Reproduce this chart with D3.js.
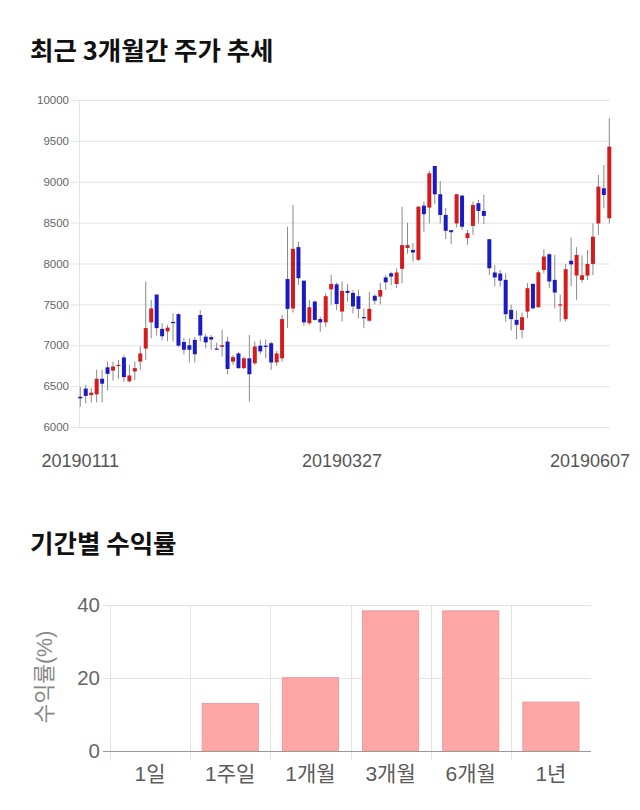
<!DOCTYPE html>
<html><head><meta charset="utf-8">
<script src="https://cdn.jsdelivr.net/npm/d3@7"></script>
<style>body{margin:0;background:#fff}svg{display:block}</style>
</head><body>
<svg id="c" width="640" height="810"></svg>
<script>
// ---- Candlestick data ----
const open  = [6370,6470,6390,6400,6590,6730,6690,6750,6850,6560,6680,6800,6960,7280,7620,7200,7170,7285,7380,7040,7000,7065,7370,7105,7100,6960,6980,7045,6800,6900,6720,6840,6780,6995,6995,7025,6790,6840,7810,7450,8200,7790,7270,7535,7320,7280,7685,7745,7412,7665,7640,7600,7345,7300,7605,7595,7830,7880,7750,7935,8190,8165,8045,8708,8684,9193,8847,8594,8407,8490,8830,8310,8460,8737,8643,8297,7890,7877,7800,7432,7310,7188,7412,7750,7465,7920,8113,7800,7490,7320,8033,7853,7800,7852,7995,8490,8920,8553];
const high  = [6490,6515,6480,6700,6700,6800,6800,6820,6880,6760,6800,6985,7780,7555,7620,7270,7250,7390,7390,7085,7085,7100,7430,7140,7125,7030,7190,7105,6880,6920,6860,7125,7045,7065,7070,7045,6930,7370,8450,8716,8268,7790,7555,7545,7350,7635,7860,7770,7780,7750,7675,7680,7450,7650,7625,7765,7860,7900,7940,8695,8500,8250,8700,8757,9130,9193,9010,8680,8410,8850,8840,8410,8757,8777,8838,8297,7980,7920,7880,7495,7420,7400,7760,7760,7920,8175,8125,8105,7620,7995,8316,8200,8097,8165,8490,9083,9205,9776];
const low   = [6250,6290,6300,6300,6300,6445,6570,6590,6555,6540,6575,6700,6820,7085,7120,7060,7050,7045,6980,6890,6790,6790,7045,6960,6945,6940,6860,6645,6760,6710,6710,6310,6755,6890,6840,6700,6750,6800,7210,7400,7740,7240,7250,7300,7165,7225,7495,7430,7290,7535,7390,7330,7208,7290,7500,7500,7680,7735,7700,7760,8120,8025,8030,8390,8490,8725,8490,8300,8240,8440,8410,8230,8350,8490,8484,7860,7720,7720,7290,7180,7075,7085,7330,7440,7460,7880,7700,7450,7290,7290,7725,7555,7765,7800,7860,8350,8675,8490];
const close = [6350,6380,6420,6590,6530,6650,6740,6760,6610,6630,6720,6900,7210,7450,7210,7110,7215,7275,6995,6945,6945,6890,7120,7035,7070,6950,7000,6710,6855,6720,6840,6645,6985,6925,6985,6790,6900,7320,7445,8180,7820,7280,7465,7310,7280,7600,7750,7505,7665,7640,7475,7445,7335,7445,7545,7676,7770,7840,7890,8225,8225,8135,8695,8603,9104,8847,8594,8400,8383,8847,8450,8370,8716,8643,8582,7942,7830,7790,7380,7320,7250,7343,7698,7452,7893,8085,7780,7645,7500,7930,7990,8105,7856,7995,8328,8940,8838,9430];
const priceTicks = [6000,6500,7000,7500,8000,8500,9000,9500,10000];
const dateLabels = ["20190111","20190327","20190607"];
const dateLabelIndex = [0,48,97];

// ---- Return bar data ----
const periods = ["1일","1주일","1개월","3개월","6개월","1년"];
const returns = [0,13.0,20.1,38.4,38.4,13.4];
const returnTicks = [0,20,40];

const svg = d3.select("#c");
const FONT = "'Liberation Sans', Arial, 'Noto Sans CJK KR', sans-serif";
const TFONT = "'Noto Sans CJK KR', sans-serif";

// Titles
svg.append("text").attr("x",30).attr("y",60).attr("font-family",TFONT).attr("font-weight","bold")
  .attr("font-size",25.5).attr("fill","#111").text("최근 3개월간 주가 추세");
svg.append("text").attr("x",30).attr("y",553).attr("font-family",TFONT).attr("font-weight","bold")
  .attr("font-size",25.5).attr("fill","#111").text("기간별 수익률");

// ---- Candlestick chart ----
const idx = d3.range(open.length);
const x = d3.scalePoint().domain(idx).range([80.3, 609.3]);
const y = d3.scaleLinear().domain([6000,10000]).range([427,100]);
const g1 = svg.append("g");

const yAx = g1.append("g").attr("transform","translate(79,0)")
  .call(d3.axisLeft(y).tickValues(priceTicks).tickSize(8).tickPadding(2).tickFormat(d3.format("d")));
yAx.select(".domain").attr("stroke","#e3e3e3");
yAx.selectAll(".tick line").attr("stroke","#e3e3e3");
yAx.selectAll(".tick text").attr("fill","#666").attr("font-size",11.5).attr("font-family",FONT);
g1.append("g").selectAll("line").data(priceTicks).join("line")
  .attr("x1",79).attr("x2",610).attr("y1",d=>y(d)+0.5).attr("y2",d=>y(d)+0.5)
  .attr("stroke","#e3e3e3");

const up = "#d41c1c", down = "#1b1bc4";
const cg = g1.append("g");
cg.selectAll("line.w").data(idx).join("line").attr("class","w")
  .attr("x1",i=>x(i)).attr("x2",i=>x(i)).attr("y1",i=>y(high[i])).attr("y2",i=>y(low[i]))
  .attr("stroke","#8a8a8a").attr("stroke-width",1);
cg.selectAll("rect").data(idx).join("rect")
  .attr("x",i=>x(i)-2).attr("width",4)
  .attr("y",i=>y(Math.max(open[i],close[i])))
  .attr("height",i=>Math.max(1.2, Math.abs(y(open[i])-y(close[i]))))
  .attr("fill",i=>close[i]>=open[i]?up:down);

const dl = g1.append("g").selectAll("text").data(dateLabels).join("text")
  .attr("y",467).attr("font-family",FONT).attr("font-size",18).attr("fill","#555")
  .attr("text-anchor","middle").attr("x",(d,k)=>x(dateLabelIndex[k])).text(d=>d);
dl.each(function(){
  const w = this.getComputedTextLength(), cx = +this.getAttribute("x");
  if (cx + w/2 > 630) d3.select(this).attr("text-anchor","end").attr("x",630);
});

// ---- Return bar chart ----
const xb = d3.scaleBand().domain(periods).range([110,591]).paddingInner(0.3).paddingOuter(0.15);
const yb = d3.scaleLinear().domain([0,40]).range([751,605]);
const g2 = svg.append("g");
const step = xb.step();
g2.selectAll("line.v").data(periods).join("line").attr("class","v")
  .attr("x1",d=>Math.round(xb(d)-xb.paddingOuter()*step)+0.5).attr("x2",d=>Math.round(xb(d)-xb.paddingOuter()*step)+0.5)
  .attr("y1",605).attr("y2",760).attr("stroke","#e3e3e3");
g2.selectAll("line.h").data(returnTicks.filter(t=>t>0)).join("line").attr("class","h")
  .attr("x1",103).attr("x2",591).attr("y1",d=>Math.round(yb(d))+0.5).attr("y2",d=>Math.round(yb(d))+0.5)
  .attr("stroke","#e3e3e3");
g2.selectAll("rect").data(periods).join("rect")
  .attr("x",d=>xb(d)).attr("width",xb.bandwidth())
  .attr("y",(d,i)=>yb(returns[i])).attr("height",(d,i)=>yb(0)-yb(returns[i]))
  .attr("fill","#ffa6a6").attr("stroke","#f09a9a").attr("stroke-width",1)
  .attr("display",(d,i)=>returns[i]>0?null:"none");
g2.append("line").attr("x1",103).attr("x2",591).attr("y1",751.5).attr("y2",751.5).attr("stroke","#999");
g2.selectAll("text.yt").data(returnTicks).join("text").attr("class","yt")
  .attr("x",100).attr("y",d=>yb(d)).attr("dy","0.36em").attr("text-anchor","end")
  .attr("font-family",FONT).attr("font-size",20.5).attr("fill","#666").text(d=>d);
g2.selectAll("text.xt").data(periods).join("text").attr("class","xt")
  .attr("x",d=>xb(d)+xb.bandwidth()/2).attr("y",781).attr("text-anchor","middle")
  .attr("font-family",FONT).attr("font-size",21).attr("fill","#5a5a5a").text(d=>d);
g2.append("text").attr("transform","translate(52,677) rotate(-90)").attr("text-anchor","middle")
  .attr("font-family",FONT).attr("font-size",21.5).attr("fill","#888").text("수익률(%)");
</script>
</body></html>
